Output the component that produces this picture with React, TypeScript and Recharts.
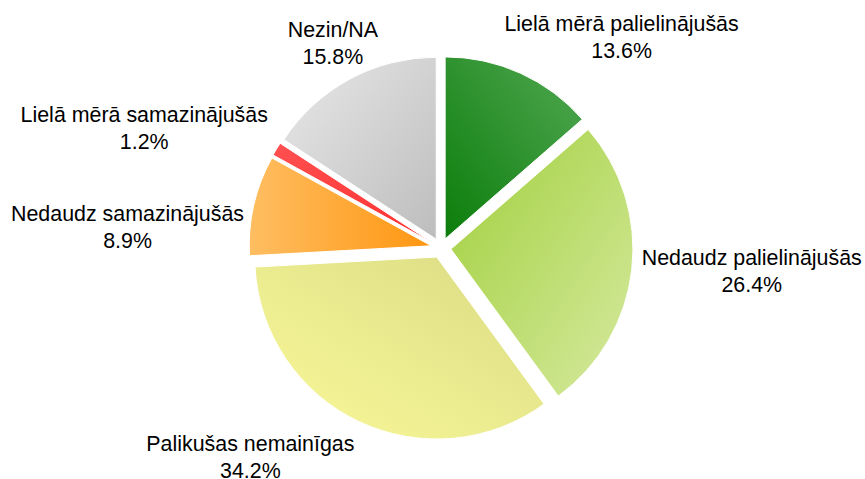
import { PieChart, Pie, Cell, Sector } from "recharts"

// survey answers, clockwise from 12 o'clock
const categories = [
  "Lielā mērā palielinājušās",
  "Nedaudz palielinājušās",
  "Palikušas nemainīgas",
  "Nedaudz samazinājušās",
  "Lielā mērā samazinājušās",
  "Nezin/NA",
]
const shares = [13.6, 26.4, 34.2, 8.9, 1.2, 15.8]

const data = categories.map((name, i) => ({ name, value: shares[i] }))

// gradient per slice: dark end -> light end (objectBoundingBox coords)
const sliceStyles = [
  { dark: "#0b7d0b", light: "#52a852", x1: 0, y1: 1, x2: 1, y2: 0 },
  { dark: "#a1cf3c", light: "#d6eaa0", x1: 0, y1: 0, x2: 1, y2: 1 },
  { dark: "#dada84", light: "#fafa9a", x1: 1, y1: 0, x2: 0, y2: 1 },
  { dark: "#ff9610", light: "#ffbe62", x1: 1, y1: 0, x2: 0, y2: 0 },
  { dark: "#ff3030", light: "#ff5050", x1: 1, y1: 1, x2: 0, y2: 0 },
  { dark: "#bdbdbd", light: "#e8e8e8", x1: 1, y1: 1, x2: 0, y2: 0 },
]

// small label tweaks so the labels sit where the original put them
const labelNudge = [
  [0, 0],
  [0, -5],
  [-15, 0],
  [0, 36],
  [0, 12],
  [31, 0],
]

const RADIAN = Math.PI / 180
const EXPLODE = 10
const LABEL_GAP = 10
const FONT = '"Liberation Sans", Arial, sans-serif'
const FONT_SIZE = 21.4
const LINE_HEIGHT = 27

let ctx: CanvasRenderingContext2D | null = null
function textWidth(s: string) {
  if (!ctx) ctx = document.createElement("canvas").getContext("2d")
  if (!ctx) return s.length * FONT_SIZE * 0.5
  ctx.font = `${FONT_SIZE}px ${FONT}`
  return ctx.measureText(s).width
}

const clamp = (v: number) => Math.max(-1, Math.min(1, v))

function ExplodedSlice(props: any) {
  const { cx, cy, midAngle } = props
  const dx = Math.cos(-midAngle * RADIAN) * EXPLODE
  const dy = Math.sin(-midAngle * RADIAN) * EXPLODE
  return <Sector {...props} cx={cx + dx} cy={cy + dy} />
}

function renderLabel(props: any) {
  const { cx, cy, midAngle, outerRadius, index, name, value } = props
  const ux = Math.cos(-midAngle * RADIAN)
  const uy = Math.sin(-midAngle * RADIAN)
  const r = outerRadius + EXPLODE + LABEL_GAP
  const px = cx + ux * r
  const py = cy + uy * r
  const pct = `${Number(value).toFixed(1)}%`
  const w = Math.max(textWidth(name), textWidth(pct))
  const h = LINE_HEIGHT * 2
  const [nx, ny] = labelNudge[index] ?? [0, 0]
  const x = px + clamp(ux * 2) * (w / 2) + nx
  const y = py + clamp(uy * 2) * (h / 2) + ny
  return (
    <text
      textAnchor="middle"
      dominantBaseline="central"
      fontFamily={FONT}
      fontSize={FONT_SIZE}
      fill="#000"
    >
      <tspan x={x} y={y - LINE_HEIGHT / 2}>{name}</tspan>
      <tspan x={x} y={y + LINE_HEIGHT / 2}>{pct}</tspan>
    </text>
  )
}

export default function App() {
  return (
    <div style={{ position: "absolute", left: 0, top: 0, background: "#fff" }}>
      <PieChart width={865} height={479} margin={{ top: 0, right: 0, bottom: 0, left: 0 }}>
        <defs>
          {sliceStyles.map((s, i) => (
            <linearGradient key={i} id={`slice-${i}`} x1={s.x1} y1={s.y1} x2={s.x2} y2={s.y2}>
              <stop offset="0%" stopColor={s.dark} />
              <stop offset="100%" stopColor={s.light} />
            </linearGradient>
          ))}
        </defs>
        <Pie
          data={data}
          dataKey="value"
          nameKey="name"
          cx={441}
          cy={248}
          outerRadius={182}
          startAngle={90}
          endAngle={-270}
          stroke="#fff"
          strokeWidth={1}
          shape={ExplodedSlice}
          activeShape={ExplodedSlice}
          inactiveShape={ExplodedSlice}
          label={renderLabel}
          labelLine={false}
          isAnimationActive={false}
        >
          {data.map((d, i) => (
            <Cell key={d.name} fill={`url(#slice-${i})`} />
          ))}
        </Pie>
      </PieChart>
    </div>
  )
}
